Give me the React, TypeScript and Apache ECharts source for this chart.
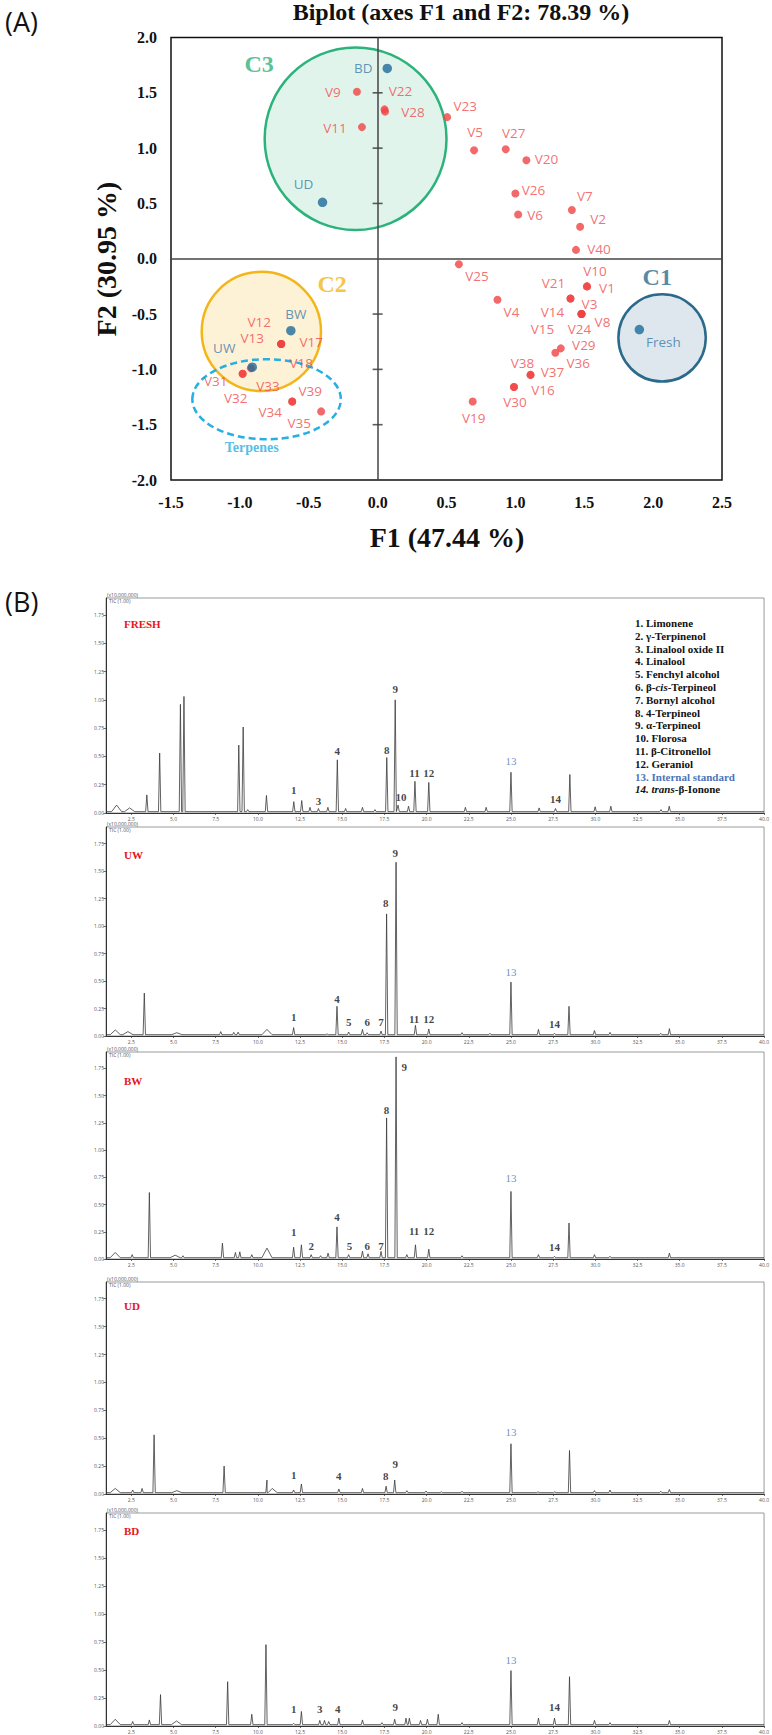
import React, { useEffect, useRef } from "react";
import * as echarts from "echarts";

// ---------------- Biplot data ----------------
const variableNames = ["V9","V22","V28","V11","V23","V5","V27","V20","V26","V6","V7","V2","V40","V25","V10","V1","V21","V3","V4","V14","V8","V24","V15","V29","V36","V38","V37","V16","V30","V19","V12","V13","V17","V18","V31","V32","V33","V39","V34","V35"];
const variableF1 = [-0.15,0.05,0.054,-0.114,0.505,0.70,0.93,1.08,1.00,1.02,1.41,1.47,1.44,0.59,1.52,1.52,1.40,1.40,0.87,1.48,1.48,1.48,1.48,1.33,1.29,1.11,1.11,0.99,0.99,0.69,-0.70,-0.70,-0.70,-0.70,-0.98,-0.98,-0.92,-0.62,-0.62,-0.41];
const variableF2 = [1.51,1.35,1.33,1.19,1.28,0.98,0.99,0.89,0.59,0.40,0.44,0.29,0.08,-0.05,-0.25,-0.25,-0.36,-0.36,-0.37,-0.50,-0.50,-0.50,-0.50,-0.81,-0.85,-1.05,-1.05,-1.16,-1.16,-1.29,-0.77,-0.77,-0.77,-0.77,-1.04,-1.04,-0.99,-1.29,-1.29,-1.38];

const sampleNames = ["BD","UD","BW","UW","Fresh"];
const sampleF1 = [0.07,-0.40,-0.63,-0.91,1.90];
const sampleF2 = [1.72,0.51,-0.65,-0.98,-0.64];

const clusterNames = ["C3","C2","C1","Terpenes"];
const clusterF1 = [-0.16,-0.844,2.065,-0.806];
const clusterF2 = [1.085,-0.657,-0.715,-1.27];
const clusterRx = [0.66,0.433,0.317,0.539];
const clusterRy = [0.825,0.539,0.395,0.362];
const clusterLabelF1 = [-0.86,-0.33,2.03,-0.914];
const clusterLabelF2 = [1.76,-0.23,-0.165,-1.705];

const centerTicks = [-1.5,-1.0,-0.5,0.5,1.0,1.5];

// ---------------- Chromatogram data (time min, intensity x10^7) ----------------
const panelNames = ["FRESH","UW","BW","UD","BD"];

const freshPeaks = [[3.42,0.16],[4.18,0.53],[5.41,0.96],[5.62,1.03],[8.87,0.60],[9.13,0.76],[9.4,0.03],[10.51,0.155],[12.13,0.10],[12.60,0.11],[13.09,0.05],[13.59,0.04],[14.15,0.05],[14.71,0.47],[15.2,0.04],[16.2,0.05],[16.94,0.03],[17.64,0.49],[18.14,1.00],[18.31,0.07],[18.93,0.06],[19.31,0.28],[20.13,0.27],[22.3,0.05],[23.53,0.05],[25.0,0.36],[26.67,0.045],[27.64,0.04],[28.49,0.34],[29.99,0.055],[30.92,0.06],[33.89,0.03],[34.38,0.06]];
const freshBroad = [[1.63,0.07],[2.4,0.045]];

const uwPeaks = [[3.27,0.39],[7.8,0.04],[8.57,0.033],[8.83,0.035],[12.12,0.076],[14.1,0.02],[14.69,0.27],[15.38,0.036],[16.2,0.06],[16.48,0.03],[17.3,0.045],[17.63,1.11],[18.19,1.58],[19.34,0.097],[20.13,0.064],[22.1,0.03],[23.75,0.025],[25.0,0.49],[26.63,0.06],[27.58,0.025],[28.44,0.27],[29.95,0.05],[30.87,0.033],[33.88,0.025],[34.39,0.067]];
const uwBroad = [[1.55,0.055],[2.3,0.04],[5.2,0.03],[10.54,0.06]];

const bwPeaks = [[2.55,0.04],[3.57,0.61],[5.56,0.03],[7.9,0.145],[8.67,0.06],[8.93,0.066],[9.64,0.04],[12.12,0.108],[12.58,0.13],[13.16,0.04],[13.72,0.03],[14.16,0.054],[14.69,0.295],[15.38,0.04],[16.2,0.072],[16.53,0.048],[17.3,0.07],[17.63,1.295],[18.19,1.855],[18.83,0.04],[19.34,0.13],[20.13,0.09],[22.1,0.03],[25.0,0.62],[26.63,0.04],[27.58,0.025],[28.44,0.33],[29.95,0.04],[30.87,0.025],[34.39,0.054]];
const bwBroad = [[1.55,0.06],[5.1,0.035],[10.54,0.10]];

const udPeaks = [[2.58,0.036],[3.14,0.05],[3.85,0.53],[8.0,0.25],[10.54,0.125],[12.12,0.036],[12.58,0.09],[14.8,0.045],[16.2,0.05],[17.6,0.07],[18.11,0.125],[18.83,0.03],[19.97,0.027],[20.87,0.02],[22.1,0.025],[25.0,0.45],[26.6,0.02],[27.6,0.02],[28.47,0.39],[29.95,0.03],[30.87,0.036],[33.88,0.025],[34.39,0.04]];
const udBroad = [[1.55,0.05],[5.2,0.03],[10.85,0.05]];

const bdPeaks = [[2.58,0.04],[3.57,0.054],[4.23,0.28],[8.21,0.395],[9.64,0.105],[10.48,0.726],[12.12,0.024],[12.58,0.13],[13.67,0.05],[13.95,0.05],[14.2,0.04],[14.8,0.07],[16.2,0.054],[17.35,0.03],[18.11,0.06],[18.78,0.07],[18.98,0.07],[19.64,0.05],[20.05,0.06],[20.69,0.105],[22.1,0.03],[25.0,0.494],[26.63,0.07],[27.58,0.07],[28.47,0.44],[29.95,0.05],[30.87,0.03],[34.39,0.05]];
const bdBroad = [[1.55,0.06],[5.18,0.045]];

const freshLabels = [["1",12.13,0.20],["3",13.59,0.107],["4",14.71,0.55],["8",17.64,0.56],["9",18.14,1.10],["10",18.49,0.137],["11",19.28,0.35],["12",20.13,0.35],["13",25.0,0.46],["14",27.64,0.12]];
const uwLabels = [["1",12.12,0.17],["4",14.69,0.34],["5",15.38,0.124],["6",16.48,0.124],["7",17.30,0.124],["8",17.58,1.21],["9",18.14,1.66],["11",19.26,0.155],["12",20.13,0.155],["13",25.0,0.58],["14",27.58,0.106]];
const bwLabels = [["1",12.12,0.244],["2",13.16,0.12],["4",14.69,0.386],["5",15.43,0.12],["6",16.48,0.12],["7",17.30,0.12],["8",17.63,1.37],["9",18.67,1.765],["11",19.26,0.253],["12",20.13,0.253],["13",25.0,0.747],["14",27.58,0.114]];
const udLabels = [["1",12.12,0.166],["4",14.8,0.163],["8",17.58,0.163],["9",18.14,0.27],["13",25.0,0.554]];
const bdLabels = [["1",12.12,0.15],["3",13.67,0.15],["4",14.74,0.15],["9",18.14,0.17],["13",25.0,0.587],["14",27.58,0.17]];

const xTickValues = [2.5,5,7.5,10,12.5,15,17.5,20,22.5,25,27.5,30,32.5,35,37.5,40];
const yTickValues = [0,0.25,0.5,0.75,1.0,1.25,1.5,1.75];

const legendLines = [
  "1. Limonene",
  "2. γ-Terpinenol",
  "3. Linalool oxide II",
  "4. Linalool",
  "5. Fenchyl alcohol",
  "6. β-{i|cis}-Terpineol",
  "7. Bornyl alcohol",
  "8. 4-Terpineol",
  "9. α-Terpineol",
  "10. Florosa",
  "11. β-Citronellol",
  "12. Geraniol",
  "{blue|13. Internal standard}",
  "{i|14. trans}-β-Ionone",
];

// ---------------- Styles / layout ----------------
const SERIF = "'Liberation Serif', 'Times New Roman', serif";
const SANS = "'Open Sans', 'Noto Sans', sans-serif";
const RED = "#f04444";
const BLUE = "#1f6b98";

const variableLabelOffsets = [[-24,0],[16,-18],[28,0],[-27,1],[18,-11],[1,-18],[8,-16],[20,-1],[18,-3],[17,0],[13,-14],[18,-8],[23,-1],[18,12],[8,-15],[20,2],[-17,-16],[19,5],[14,12],[-29,-2],[21,8],[-2,15],[-39,15],[23,-3],[23,10],[-8,-12],[22,-3],[29,3],[1,15],[1,17],[-22,-22],[-29,-6],[30,-2],[20,19],[-27,7],[-7,24],[17,18],[18,-10],[-22,11],[-22,12]];
const sampleLabelOffsets = [[-24,0],[-19,-18],[5,-17],[-28,-19],[24,12]];
const ellipseStyles = [
  { fill: "rgba(44,178,123,0.14)", stroke: "#2cb27b", width: 2.5, dash: null },
  { fill: "rgba(248,190,70,0.22)", stroke: "#f3b619", width: 2.5, dash: null },
  { fill: "rgba(43,106,140,0.16)", stroke: "#2b6a8c", width: 2.5, dash: null },
  { fill: "rgba(0,0,0,0)", stroke: "#27aee2", width: 2.5, dash: [7, 4] },
];
const clusterLabelStyles = [
  { color: "#2cb27b", size: 24 },
  { color: "#f3b619", size: 24 },
  { color: "#2b6a8c", size: 24 },
  { color: "#27aee2", size: 14 },
];

const panelTops = [598, 827, 1052, 1282, 1513];
const panelBottoms = [813, 1036, 1259, 1494, 1726];
const panelNameY = [624, 855, 1081, 1306, 1531];

const BASE = 0.012;
const SHARP_W = 0.07;
const BROAD_W = 0.3;

function buildTrace(sharp: number[][], broad: number[][]) {
  const pts: number[][] = [[1, BASE], [40, BASE]];
  sharp.forEach(([t, h]) => { pts.push([t - SHARP_W, BASE], [t, h], [t + SHARP_W, BASE]); });
  broad.forEach(([t, h]) => { pts.push([t - BROAD_W, BASE], [t, h], [t + BROAD_W, BASE]); });
  pts.sort((a, b) => a[0] - b[0]);
  return pts;
}

function buildOption() {
  const chromPeaks = [freshPeaks, uwPeaks, bwPeaks, udPeaks, bdPeaks];
  const chromBroad = [freshBroad, uwBroad, bwBroad, udBroad, bdBroad];
  const chromLabels = [freshLabels, uwLabels, bwLabels, udLabels, bdLabels];

  const grids: any[] = [
    { left: 171, top: 37.5, width: 551, height: 442.5, show: true, borderColor: "#111", borderWidth: 1.5, backgroundColor: "transparent" },
  ];
  const xAxes: any[] = [
    {
      gridIndex: 0, type: "value", min: -1.5, max: 2.5, interval: 0.5,
      axisLine: { show: false, onZero: false }, axisTick: { show: false }, splitLine: { show: false },
      axisLabel: { margin: 14, fontFamily: SERIF, fontWeight: "bold", fontSize: 16, color: "#111", formatter: (v: number) => v.toFixed(1) },
    },
  ];
  const yAxes: any[] = [
    {
      gridIndex: 0, type: "value", min: -2, max: 2, interval: 0.5,
      axisLine: { show: false, onZero: false }, axisTick: { show: false }, splitLine: { show: false },
      axisLabel: { margin: 14, fontFamily: SERIF, fontWeight: "bold", fontSize: 16, color: "#111", formatter: (v: number) => v.toFixed(1) },
    },
  ];

  const series: any[] = [
    {
      type: "custom", xAxisIndex: 0, yAxisIndex: 0, clip: false, silent: true, z: 1,
      data: clusterNames.map((n, i) => ({ name: n, value: [clusterF1[i], clusterF2[i], clusterRx[i], clusterRy[i]] })),
      renderItem: (params: any, api: any) => {
        const c = api.coord([api.value(0), api.value(1)]);
        const s = api.size([api.value(2), api.value(3)], [api.value(0), api.value(1)]);
        const st = ellipseStyles[params.dataIndex];
        return {
          type: "ellipse",
          shape: { cx: c[0], cy: c[1], rx: s[0], ry: s[1] },
          style: { fill: st.fill, stroke: st.stroke, lineWidth: st.width, lineDash: st.dash || undefined },
        };
      },
    },
    {
      type: "scatter", xAxisIndex: 0, yAxisIndex: 0, data: [], silent: true, z: 2,
      markLine: {
        silent: true, symbol: "none", label: { show: false },
        lineStyle: { color: "#444", width: 1.5, type: "solid" },
        data: [{ xAxis: 0 }, { yAxis: 0 }],
      },
    },
    {
      type: "scatter", xAxisIndex: 0, yAxisIndex: 0, silent: true, z: 2,
      symbol: "rect", symbolSize: [10, 1.6], itemStyle: { color: "#333" },
      data: centerTicks.map((v) => [0, v]),
    },
    {
      type: "scatter", xAxisIndex: 0, yAxisIndex: 0, z: 3, symbolSize: 8,
      itemStyle: { color: RED },
      label: { show: true, position: "inside", formatter: "{b}", color: "#f04b4b", fontFamily: SANS, fontSize: 13.5 },
      data: variableNames.map((n, i) => ({ name: n, value: [variableF1[i], variableF2[i]], label: { offset: variableLabelOffsets[i] } })),
    },
    {
      type: "scatter", xAxisIndex: 0, yAxisIndex: 0, z: 4, symbolSize: 9.5,
      itemStyle: { color: BLUE },
      label: { show: true, position: "inside", formatter: "{b}", color: "#3b7aa6", fontFamily: SANS, fontSize: 13.5 },
      data: sampleNames.map((n, i) => ({ name: n, value: [sampleF1[i], sampleF2[i]], label: { offset: sampleLabelOffsets[i] } })),
    },
    {
      type: "scatter", xAxisIndex: 0, yAxisIndex: 0, z: 4, symbolSize: 1, silent: true,
      itemStyle: { color: "rgba(0,0,0,0)" },
      data: clusterNames.map((n, i) => ({
        name: n, value: [clusterLabelF1[i], clusterLabelF2[i]],
        label: { show: true, position: "inside", formatter: "{b}", fontFamily: SERIF, fontWeight: "bold", color: clusterLabelStyles[i].color, fontSize: clusterLabelStyles[i].size },
      })),
    },
  ];

  const graphics: any[] = [
    { type: "text", x: 5, y: 21, style: { text: "(A)", fontFamily: SANS, fontSize: 27, fill: "#111", verticalAlign: "middle" } },
    { type: "text", x: 461, y: 12, style: { text: "Biplot (axes F1 and F2: 78.39 %)", fontFamily: SERIF, fontWeight: "bold", fontSize: 24, fill: "#111", align: "center", verticalAlign: "middle" } },
    { type: "text", x: 447, y: 537, style: { text: "F1 (47.44 %)", fontFamily: SERIF, fontWeight: "bold", fontSize: 28, fill: "#111", align: "center", verticalAlign: "middle" } },
    { type: "text", x: 106, y: 259, rotation: Math.PI / 2, style: { text: "F2 (30.95 %)", fontFamily: SERIF, fontWeight: "bold", fontSize: 28, fill: "#111", align: "center", verticalAlign: "middle" } },
    { type: "text", x: 5, y: 601, style: { text: "(B)", fontFamily: SANS, fontSize: 27, fill: "#111", verticalAlign: "middle" } },
  ];

  for (let p = 0; p < 5; p++) {
    const gi = p + 1;
    grids.push({ left: 106, top: panelTops[p], width: 659, height: panelBottoms[p] - panelTops[p], show: true, borderColor: "#9a9a9a", borderWidth: 1 });
    xAxes.push({
      gridIndex: gi, type: "value", min: 1, max: 40,
      axisLine: { show: true, onZero: false, lineStyle: { color: "#333", width: 1 } },
      axisTick: { show: true, length: 2, customValues: xTickValues, lineStyle: { color: "#333", width: 0.7 } },
      axisLabel: { customValues: xTickValues, fontSize: 5, color: "#555", margin: 3, fontFamily: SANS, formatter: (v: number) => v.toFixed(1) },
      splitLine: { show: false },
    });
    yAxes.push({
      gridIndex: gi, type: "value", min: 0, max: 1.9,
      axisLine: { show: true, onZero: false, lineStyle: { color: "#333", width: 1 } },
      axisTick: { show: true, length: 2.5, customValues: yTickValues, lineStyle: { color: "#333", width: 0.7 } },
      axisLabel: { customValues: yTickValues, fontSize: 5, color: "#555", margin: 2, fontFamily: SANS, formatter: (v: number) => v.toFixed(2) },
      splitLine: { show: false },
    });
    series.push({
      type: "line", xAxisIndex: gi, yAxisIndex: gi, symbol: "none", silent: true, clip: true,
      lineStyle: { color: "#3a3a3a", width: 0.8 },
      data: buildTrace(chromPeaks[p], chromBroad[p]),
    });
    series.push({
      type: "scatter", xAxisIndex: gi, yAxisIndex: gi, symbolSize: 1, silent: true, z: 5,
      itemStyle: { color: "rgba(0,0,0,0)" },
      data: chromLabels[p].map((l) => {
        const is13 = l[0] === "13";
        return {
          name: l[0], value: [l[1], l[2]],
          label: { show: true, position: "inside", formatter: "{b}", fontFamily: SERIF, fontWeight: is13 ? "normal" : "bold", fontSize: 11, color: is13 ? "#4d74b8" : "#111" },
        };
      }),
    });
    graphics.push({ type: "text", x: 124, y: panelNameY[p], style: { text: panelNames[p], fontFamily: SERIF, fontWeight: "bold", fontSize: 11, fill: "#e5141b", verticalAlign: "middle" } });
    graphics.push({ type: "text", x: 107, y: panelTops[p] - 3, style: { text: "(x10,000,000)", fontFamily: SANS, fontSize: 5, fill: "#555", verticalAlign: "middle" } });
    graphics.push({ type: "text", x: 109, y: panelTops[p] + 2.5, style: { text: "TIC (1.00)", fontFamily: SANS, fontSize: 5, fill: "#555", verticalAlign: "middle" } });
  }

  legendLines.forEach((line, i) => {
    graphics.push({
      type: "text", x: 635, y: 623 + i * 12.8,
      style: {
        text: line, fontFamily: SERIF, fontWeight: "bold", fontSize: 11, fill: "#111", verticalAlign: "middle",
        rich: {
          i: { fontFamily: SERIF, fontWeight: "bold", fontStyle: "italic", fontSize: 11, fill: "#111" },
          blue: { fontFamily: SERIF, fontWeight: "bold", fontSize: 11, fill: "#4d74b8" },
        },
      },
    });
  });

  return {
    animation: false,
    backgroundColor: "#fff",
    grid: grids,
    xAxis: xAxes,
    yAxis: yAxes,
    series,
    graphic: { elements: graphics },
  };
}

export default function App() {
  const ref = useRef<HTMLDivElement>(null);
  useEffect(() => {
    const chart = echarts.init(ref.current!, null, { renderer: "svg" });
    chart.setOption(buildOption() as any);
    return () => chart.dispose();
  }, []);
  return <div ref={ref} style={{ position: "absolute", left: 0, top: 0, width: 772, height: 1735, background: "#fff" }} />;
}
